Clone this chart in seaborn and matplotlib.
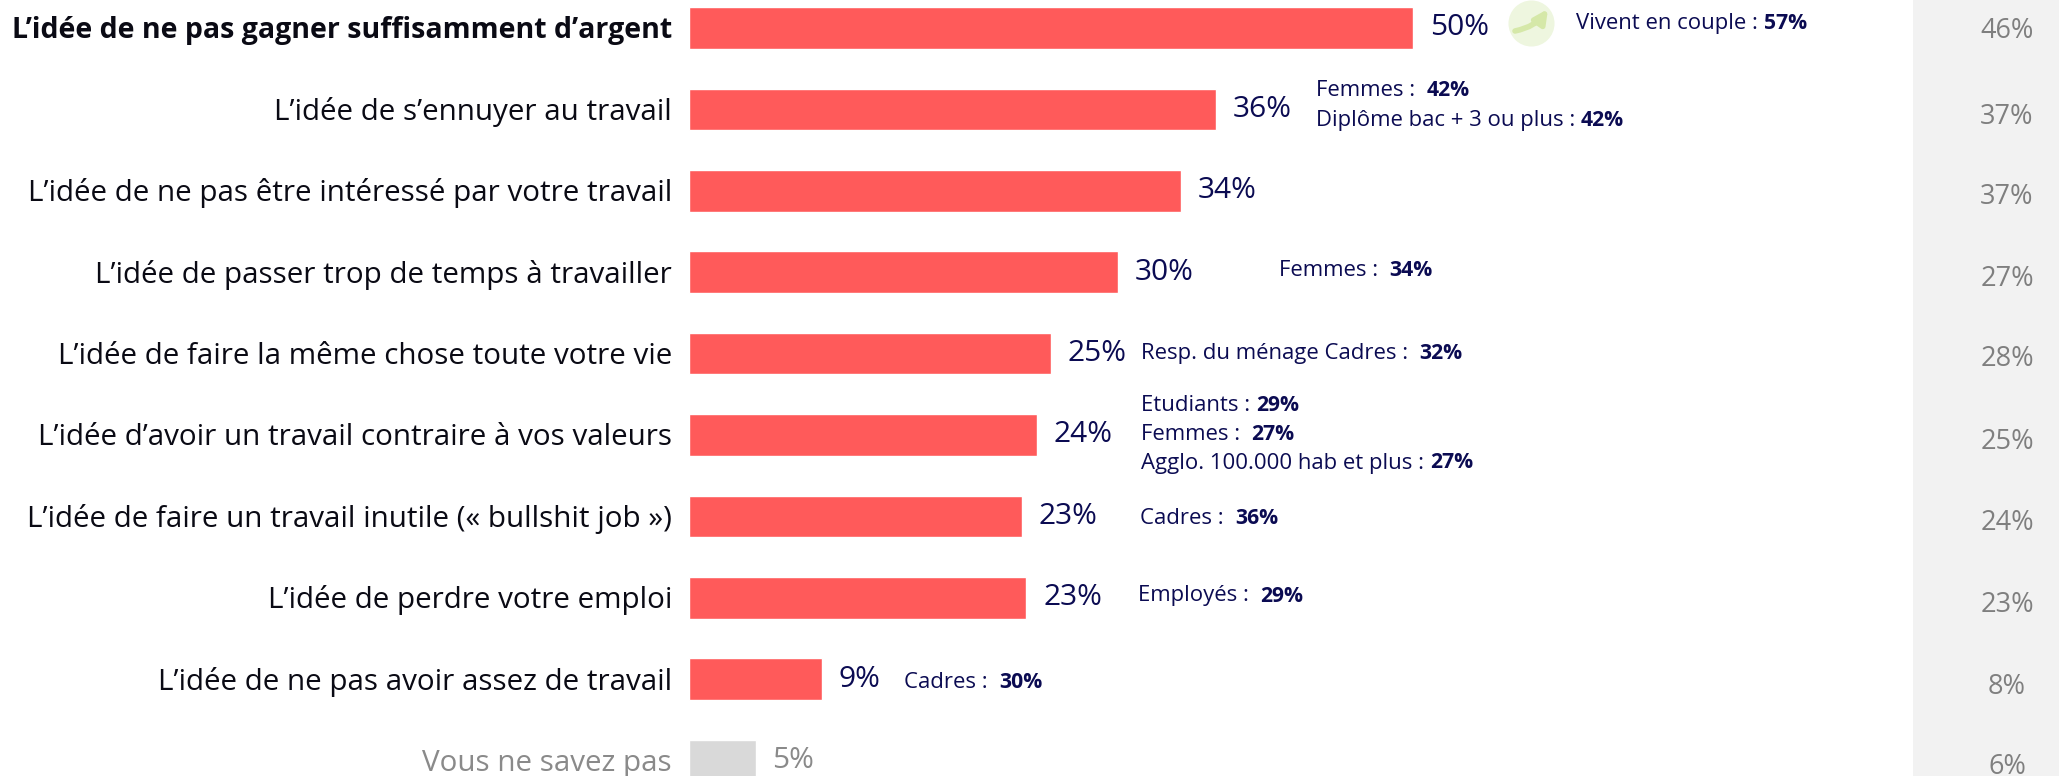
import matplotlib
matplotlib.use("Agg")
import matplotlib.pyplot as plt
import pandas as pd
import seaborn as sns

# Categories, top to bottom
categories = [
    "L’idée de ne pas gagner suffisamment d’argent",
    "L’idée de s’ennuyer au travail",
    "L’idée de ne pas être intéressé par votre travail",
    "L’idée de passer trop de temps à travailler",
    "L’idée de faire la même chose toute votre vie",
    "L’idée d’avoir un travail contraire à vos valeurs",
    "L’idée de faire un travail inutile (« bullshit job »)",
    "L’idée de perdre votre emploi",
    "L’idée de ne pas avoir assez de travail",
    "Vous ne savez pas",
]
# Bar lengths as drawn in the picture (they differ a little from the printed labels)
bar_lengths = [50, 36.4, 34, 29.6, 25, 24, 23, 23.3, 9.2, 4.6]
value_labels = ["50%", "36%", "34%", "30%", "25%", "24%", "23%", "23%", "9%", "5%"]
previous_labels = ["46%", "37%", "37%", "27%", "28%", "25%", "24%", "23%", "8%", "6%"]

# Sub-group callouts: (regular part, bold part), one list per line
callout_lines = [
    ("Vivent en couple : ", "57%"),
    ("Femmes :  ", "42%"),
    ("Diplôme bac + 3 ou plus : ", "42%"),
    ("Femmes :  ", "34%"),
    ("Resp. du ménage Cadres :  ", "32%"),
    ("Etudiants : ", "29%"),
    ("Femmes :  ", "27%"),
    ("Agglo. 100.000 hab et plus : ", "27%"),
    ("Cadres :  ", "36%"),
    ("Employés :  ", "29%"),
    ("Cadres :  ", "30%"),
]
# Where each callout line starts, in reference pixels
callout_pos = [
    (1576, 24), (1316, 91), (1316, 121), (1279, 271), (1141, 354), (1141, 406),
    (1141, 435), (1141, 463), (1140, 518), (1138, 596), (904, 683),
]

NAVY = "#0B0B52"
RED = "#FF5A5A"
GREY_BAR = "#D9D9D9"
GREY_TEXT = "#8A8A8A"
FONT = "Open Sans"

W, H = 2059, 776
X0, PX_PER_UNIT = 689, 14.48
Y0, PX_PER_ROW = 28, 81.4


def sx(px):
    return (px - X0) / PX_PER_UNIT


def sy(py):
    return (py - Y0) / PX_PER_ROW


sns.set_theme(style="white")
plt.rcParams["font.family"] = [FONT, "DejaVu Sans"]

df = pd.DataFrame({"category": categories, "length": bar_lengths})
palette = [RED] * 9 + [GREY_BAR]

fig = plt.figure(figsize=(W / 100, H / 100), dpi=100)
ax = fig.add_axes([0, 0, 1, 1])

ax.axvspan(sx(1913), sx(W), color="#F2F2F2", lw=0, zorder=0)

sns.barplot(
    data=df, y="category", x="length", hue="category", palette=palette,
    order=categories, hue_order=categories, dodge=False, legend=False,
    width=41.5 / PX_PER_ROW, saturation=1, ax=ax, zorder=2,
)
ax.set_xlim(sx(0), sx(W))
ax.set_ylim(sy(H), sy(0))
ax.set_axis_off()

# Printed value next to each bar
for container, label, cat in zip(ax.containers, value_labels, categories):
    grey = cat == "Vous ne savez pas"
    ax.bar_label(container, labels=[label], padding=12, fontsize=21.5,
                 color=GREY_TEXT if grey else NAVY)

# Category labels and last-period column
for i, cat in enumerate(categories):
    grey = cat == "Vous ne savez pas"
    ax.text(sx(672), i + 2.5 / PX_PER_ROW, cat, ha="right", va="center",
            fontsize=20.5 if i == 0 else 21.3,
            color=GREY_TEXT if grey else "#0A0A14",
            fontweight="bold" if i == 0 else "normal")
for prev, py in zip(previous_labels, [31, 117, 197, 279, 359, 442, 523, 605, 687, 767]):
    ax.text(sx(2007), sy(py), prev, ha="center", va="center", fontsize=19.5,
            color="#7F7F7F")

# Callouts: regular text followed by the bold figure
for (plain, bold), (px, py) in zip(callout_lines, callout_pos):
    first = ax.text(sx(px), sy(py), plain, ha="left", va="center", fontsize=15.9, color=NAVY)
    ax.annotate(bold, xy=(1, 0.5), xycoords=first, ha="left", va="center",
                fontsize=15.2, color=NAVY, fontweight="bold")

# Little trend icon on the first row
ax.scatter([sx(1531)], [sy(23)], s=1100, color="#EEF6DF", linewidths=0, zorder=3, clip_on=False)
ax.annotate("", xy=(sx(1548), sy(9)), xytext=(sx(1515), sy(31)), zorder=4,
            arrowprops=dict(arrowstyle="-|>", color="#D5E8A8", lw=4,
                            connectionstyle="arc3,rad=0.2", mutation_scale=20,
                            shrinkA=0, shrinkB=0))

fig.savefig("out.png", dpi=100)
